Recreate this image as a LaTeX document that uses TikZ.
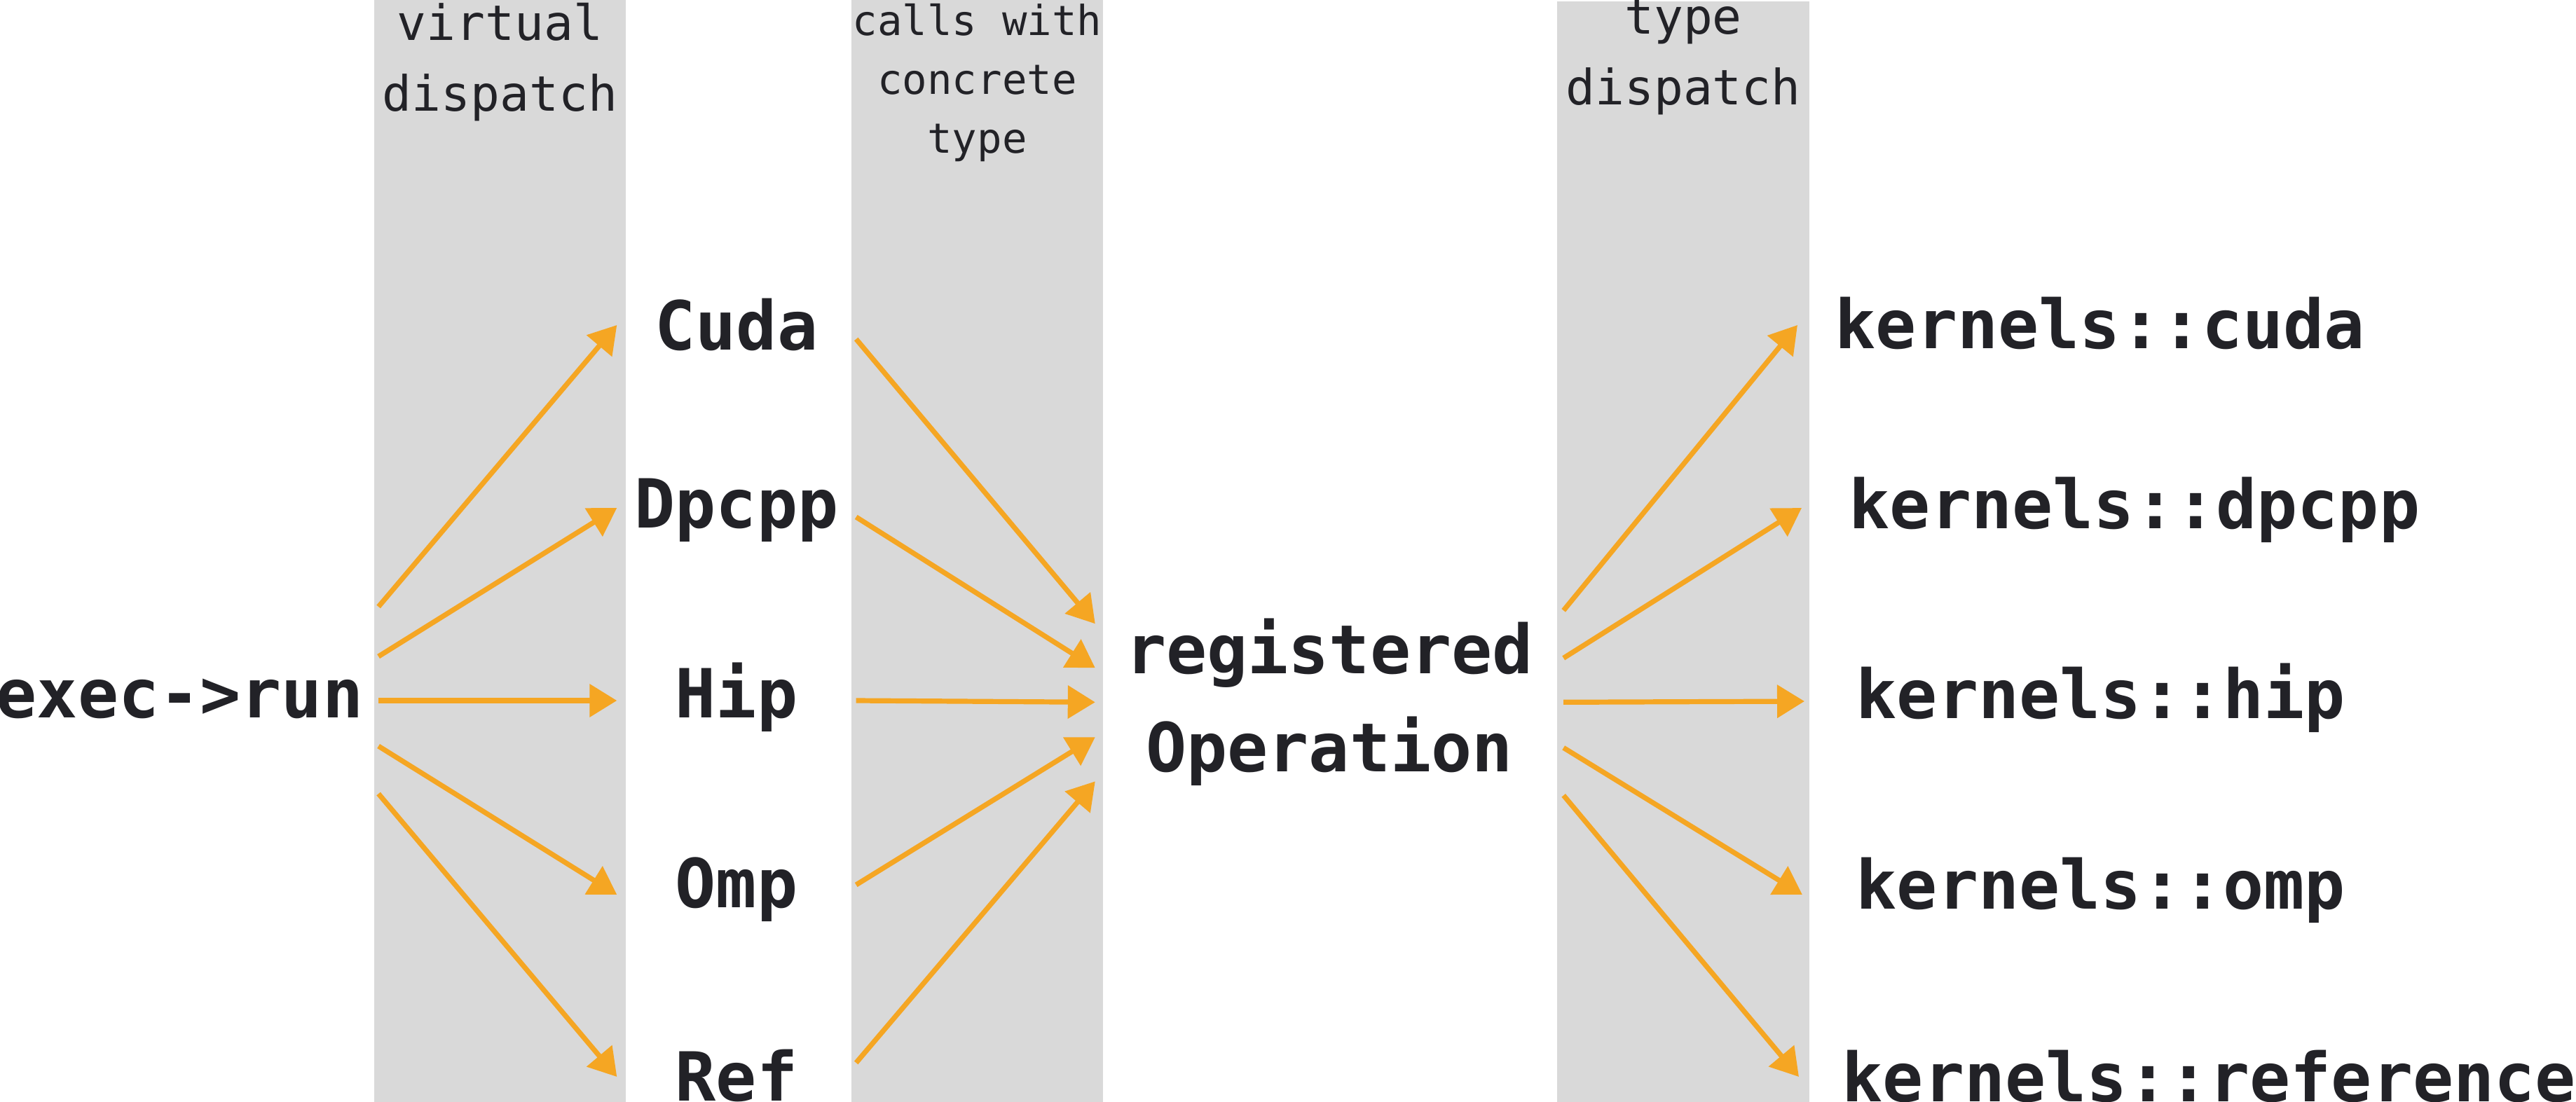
\documentclass[tikz,border=0pt]{standalone}
\usepackage{fontspec}
\setmonofont{DejaVu Sans Mono}
\usetikzlibrary{arrows.meta}
\definecolor{bandgray}{HTML}{D9D9D9}
\definecolor{flowor}{HTML}{F5A623}
\definecolor{inkdark}{HTML}{222227}

\begin{document}
\begin{tikzpicture}
      [
        band/.style={fill=bandgray, draw=none},
        head/.style={font=\ttfamily\fontsize{19.8}{28.6}\selectfont, text=inkdark, align=center, anchor=north, inner sep=0pt},
        headsm/.style={head, font=\ttfamily\fontsize{16.8}{23.9}\selectfont},
        word/.style={font=\ttfamily\bfseries\fontsize{27.5}{40}\selectfont, text=inkdark, inner sep=0pt},
        call/.style={word, text height=0.48cm, text depth=0pt, anchor=base},
        impl/.style={call, minimum width=3.40cm},
        kern/.style={call, anchor=base west},
        flow/.style={draw=flowor, line width=0.072cm, -{Triangle[length=0.39cm, width=0.46cm]}}
      ]
      \fill[white] (0,0) rectangle (36.76,-15.73);
      \useasboundingbox (0,0) rectangle (36.76,-15.73);
      % grey bands
      \fill[band] (5.34,0) rectangle (8.93,-15.73);
      \fill[band] (12.15,0) rectangle (15.74,-15.73);
      \fill[band] (22.22,-0.02) rectangle (25.82,-15.73);
      \node[head] (vhead) at (7.135,-0.04) {virtual\\dispatch};
      \node[headsm] (chead) at (13.945,-0.05) {calls with\\concrete\\type};
      \node[head] (thead) at (24.02,0.01) {type\\dispatch};
      % labels
      \node[call, anchor=base west, inner xsep=0.21cm] (run) at (-0.27,-10.24) {exec->run};
      \node[impl] (cuda) at (10.51,-4.99) {Cuda};
      \node[impl] (dpcpp) at (10.51,-7.53) {Dpcpp};
      \node[impl] (hip) at (10.51,-10.24) {Hip};
      \node[impl] (omp) at (10.51,-12.95) {Omp};
      \node[impl] (ref) at (10.51,-15.71) {Ref};
      \node[word, align=center, anchor=north, minimum width=6.67cm] (regop) at (18.97,-8.82) {registered\\Operation};
      \node[kern] (kcuda) at (26.18,-4.97) {kernels::cuda};
      \node[kern] (kdpcpp) at (26.38,-7.54) {kernels::dpcpp};
      \node[kern] (khip) at (26.48,-10.25) {kernels::hip};
      \node[kern] (komp) at (26.48,-12.97) {kernels::omp};
      \node[kern] (kref) at (26.28,-15.72) {kernels::reference};
      % virtual dispatch
      \draw[flow] ([yshift=1.34cm]run.east) -- ([yshift=0.11cm]cuda.west);
      \draw[flow] ([yshift=0.63cm]run.east) -- ([yshift=0.04cm]dpcpp.west);
      \draw[flow] (run.east) -- (hip.west);
      \draw[flow] ([yshift=-0.65cm]run.east) -- ([yshift=-0.06cm]omp.west);
      \draw[flow] ([yshift=-1.33cm]run.east) -- ([yshift=0.10cm]ref.west);
      % calls with concrete type
      \draw[flow] ([yshift=-0.09cm]cuda.east) -- ([yshift=1.12cm]regop.west);
      \draw[flow] ([yshift=-0.09cm]dpcpp.east) -- ([yshift=0.49cm]regop.west);
      \draw[flow] (hip.east) -- (regop.west);
      \draw[flow] ([yshift=0.08cm]omp.east) -- ([yshift=-0.50cm]regop.west);
      \draw[flow] ([yshift=0.30cm]ref.east) -- ([yshift=-1.13cm]regop.west);
      % type dispatch
      \draw[flow] ([yshift=1.31cm]regop.east) -- ([xshift=-0.53cm,yshift=0.09cm]kcuda.west);
      \draw[flow] ([yshift=0.63cm]regop.east) -- ([xshift=-0.67cm,yshift=0.05cm]kdpcpp.west);
      \draw[flow] (regop.east) -- ([xshift=-0.73cm]khip.west);
      \draw[flow] ([yshift=-0.65cm]regop.east) -- ([xshift=-0.76cm,yshift=-0.04cm]komp.west);
      \draw[flow] ([yshift=-1.33cm]regop.east) -- ([xshift=-0.61cm,yshift=0.11cm]kref.west);
    \end{tikzpicture}
\end{document}
